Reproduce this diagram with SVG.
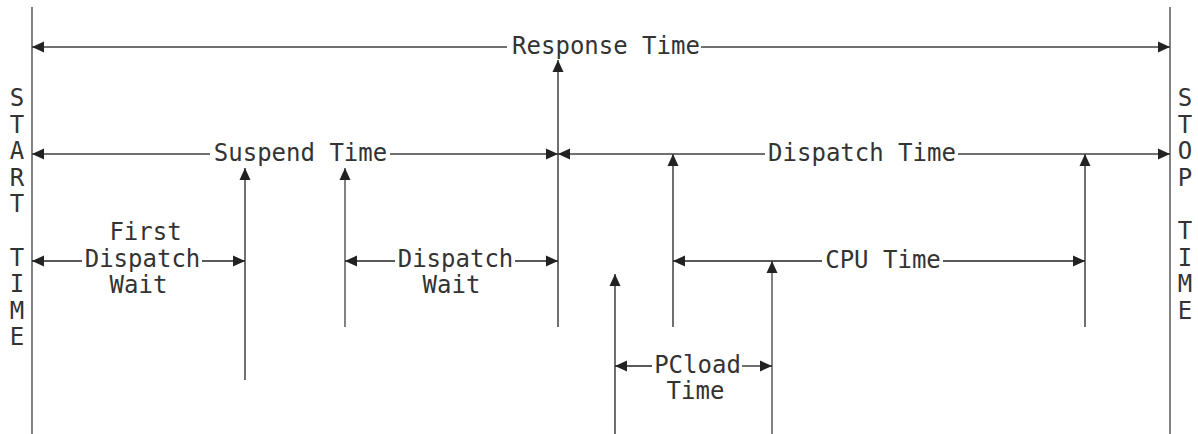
<svg xmlns="http://www.w3.org/2000/svg" width="1198" height="434" viewBox="0 0 1198 434">
<style>
.ln{stroke:#404040;stroke-width:1.3;fill:none}
.ar{stroke:#222;stroke-width:1.3;fill:none}
.t{font-family:"DejaVu Sans Mono","Liberation Mono",monospace;font-size:24px;fill:#333;text-anchor:middle}
</style>
<defs>
<marker id="ah" viewBox="0 0 12 12" refX="12" refY="6" markerWidth="12" markerHeight="12" markerUnits="userSpaceOnUse" orient="auto-start-reverse">
<path d="M0,0.5 L12,6 L0,11.5 z" fill="#222"/>
</marker>
</defs>
<rect width="1198" height="434" fill="#fff"/>
<g id="start-time">
<line class="ln" x1="32" y1="7" x2="32" y2="434"/>
<text class="t"><tspan x="17" y="106">S</tspan><tspan x="17" y="132.6">T</tspan><tspan x="17" y="159.2">A</tspan><tspan x="17" y="185.8">R</tspan><tspan x="17" y="212.4">T</tspan><tspan x="17" y="265.6">T</tspan><tspan x="17" y="292.2">I</tspan><tspan x="17" y="318.8">M</tspan><tspan x="17" y="345.4">E</tspan></text>
</g>
<g id="stop-time">
<line class="ln" x1="1170" y1="7" x2="1170" y2="434"/>
<text class="t"><tspan x="1185" y="106">S</tspan><tspan x="1185" y="132.6">T</tspan><tspan x="1185" y="159.2">O</tspan><tspan x="1185" y="185.8">P</tspan><tspan x="1185" y="239">T</tspan><tspan x="1185" y="265.6">I</tspan><tspan x="1185" y="292.2">M</tspan><tspan x="1185" y="318.8">E</tspan></text>
</g>
<g id="connectors">
<line class="ar" x1="245" y1="380" x2="245" y2="168" marker-end="url(#ah)"/>
<line class="ln" x1="345" y1="327" x2="345" y2="168" marker-end="url(#ah)"/>
<line class="ar" x1="558" y1="327" x2="558" y2="60" marker-end="url(#ah)"/>
<line class="ar" x1="673" y1="327" x2="673" y2="154" marker-end="url(#ah)"/>
<line class="ar" x1="1085" y1="327" x2="1085" y2="154" marker-end="url(#ah)"/>
<line class="ar" x1="615" y1="434" x2="615" y2="274" marker-end="url(#ah)"/>
<line class="ln" x1="772" y1="434" x2="772" y2="261" marker-end="url(#ah)"/>
</g>
<g id="response-time">
<line class="ln" x1="507" y1="47" x2="32" y2="47" marker-end="url(#ah)"/>
<line class="ln" x1="701" y1="47" x2="1170" y2="47" marker-end="url(#ah)"/>
<text class="t" x="606" y="54">Response Time</text>
</g>
<g id="suspend-time">
<line class="ln" x1="210" y1="154" x2="32" y2="154" marker-end="url(#ah)"/>
<line class="ln" x1="390" y1="154" x2="558" y2="154" marker-end="url(#ah)"/>
<text class="t" x="300.5" y="161">Suspend Time</text>
</g>
<g id="dispatch-time">
<line class="ln" x1="765" y1="154" x2="558" y2="154" marker-end="url(#ah)"/>
<line class="ln" x1="958" y1="154" x2="1170" y2="154" marker-end="url(#ah)"/>
<text class="t" x="862" y="161">Dispatch Time</text>
</g>
<g id="first-dispatch-wait">
<line class="ar" x1="82" y1="261" x2="32" y2="261" marker-end="url(#ah)"/>
<line class="ar" x1="202" y1="261" x2="245" y2="261" marker-end="url(#ah)"/>
<text class="t" x="145.5" y="240">First</text>
<text class="t" x="142.5" y="267">Dispatch</text>
<text class="t" x="138.5" y="293">Wait</text>
</g>
<g id="dispatch-wait">
<line class="ar" x1="395" y1="261" x2="345" y2="261" marker-end="url(#ah)"/>
<line class="ar" x1="515" y1="261" x2="558" y2="261" marker-end="url(#ah)"/>
<text class="t" x="455.5" y="267">Dispatch</text>
<text class="t" x="451.5" y="293">Wait</text>
</g>
<g id="cpu-time">
<line class="ar" x1="822" y1="261" x2="673" y2="261" marker-end="url(#ah)"/>
<line class="ar" x1="943" y1="261" x2="1085" y2="261" marker-end="url(#ah)"/>
<text class="t" x="883" y="268">CPU Time</text>
</g>
<g id="pcload-time">
<line class="ar" x1="652" y1="366" x2="615" y2="366" marker-end="url(#ah)"/>
<line class="ar" x1="742" y1="366" x2="772" y2="366" marker-end="url(#ah)"/>
<text class="t" x="697.5" y="373">PCload</text>
<text class="t" x="695.5" y="399">Time</text>
</g>
</svg>
